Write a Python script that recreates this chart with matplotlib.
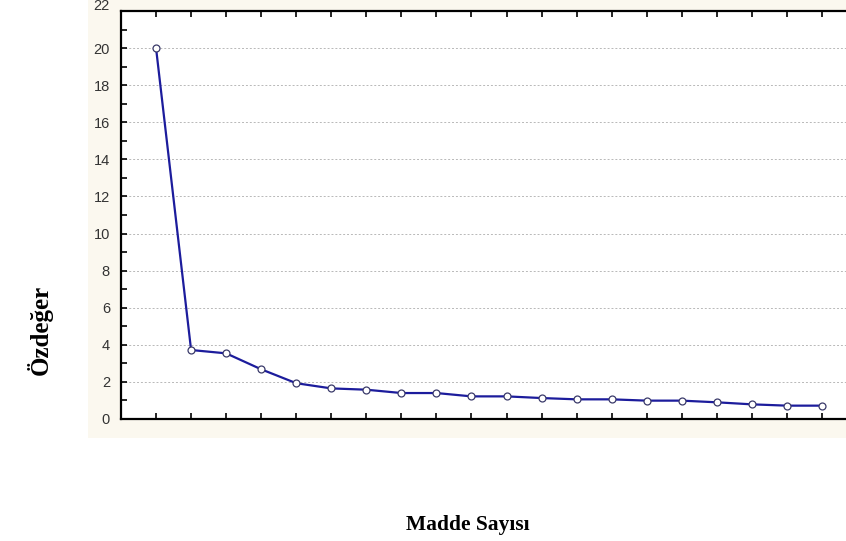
import numpy as np
import matplotlib.pyplot as plt
from matplotlib.patches import Rectangle
from matplotlib.transforms import ScaledTranslation

# eigenvalues per item (scree plot)
madde = list(range(1, 21))
ozdeger = [20.0, 3.72, 3.54, 2.68, 1.93, 1.65, 1.58, 1.40, 1.40, 1.22,
           1.22, 1.13, 1.06, 1.06, 0.99, 0.99, 0.90, 0.79, 0.72, 0.72]
y_ticks = [0, 2, 4, 6, 8, 10, 12, 14, 16, 18, 20, 22]

W, H = 846, 541
fig = plt.figure(figsize=(W / 100, H / 100), dpi=100, facecolor='white')

# cream panel behind the plot area
fig.patches.append(Rectangle((88 / W, 1 - 438 / H), 1 - 88 / W, 438 / H,
                             transform=fig.transFigure, facecolor='#fbf8ef',
                             edgecolor='none', zorder=-5))

left, right = 121, 857
top, bottom = 11, 419
ax = fig.add_axes([left / W, 1 - bottom / H, (right - left) / W, (bottom - top) / H])
ax.set_facecolor('white')

ax.plot(madde, ozdeger, color='#1c1c9c', lw=1.6, zorder=3,
        marker='o', markersize=5, markerfacecolor='white',
        markeredgecolor='#3a3a6a', markeredgewidth=0.9, clip_on=False)

ax.set_xlim(0, 21)
ax.set_ylim(0, 22)
ax.set_yticks(y_ticks)
ax.set_yticks(range(0, 23), minor=True)
ax.set_xticks(madde)
ax.set_xticklabels([])

ax.grid(axis='y', which='major', color='#b8b8b8', linestyle=(0, (2, 2)), lw=0.7)
ax.set_axisbelow(True)

for s in ['left', 'bottom', 'top']:
    ax.spines[s].set_color('black')
    ax.spines[s].set_linewidth(1.6)
ax.spines['right'].set_visible(False)

ax.tick_params(axis='y', which='both', direction='in', length=4, width=1.2,
               labelsize=10.5, labelcolor='#333333', pad=8)
ax.tick_params(axis='x', which='both', direction='in', length=4, width=1.2,
               top=True, bottom=True)
for lab in ax.get_yticklabels():
    lab.set_fontfamily('Liberation Sans')

# top label sits a little above its tick
fig.canvas.draw()
top_lab = ax.get_yticklabels()[-1]
top_lab.set_transform(top_lab.get_transform() + ScaledTranslation(0, 7 / 100, fig.dpi_scale_trans))

fig.text(40 / W, 1 - 330 / H, 'Özdeğer', rotation=90, ha='center', va='center',
         fontsize=18, fontweight='bold', family='Liberation Serif')
fig.text(468 / W, 1 - 525 / H, 'Madde Sayısı', ha='center', va='center',
         fontsize=15.5, fontweight='bold', family='Liberation Serif')

fig.savefig('out.png', dpi=100)
